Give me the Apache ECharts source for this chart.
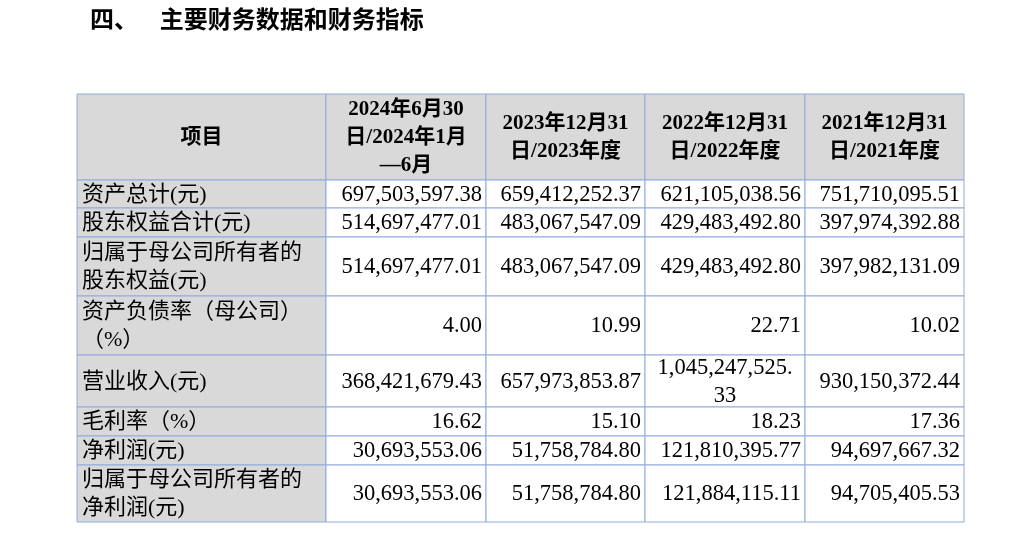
<!DOCTYPE html>
<html><head><meta charset="utf-8">
<script src="https://cdn.jsdelivr.net/npm/echarts@6/dist/echarts.min.js"></script>
<style>html,body{margin:0;background:#fff}#c{width:1033px;height:533px}</style>
</head><body><div id="c"></div>
<script>
const title = "四、    主要财务数据和财务指标";
const headers = ["项目", "2024年6月30\n日/2024年1月\n—6月", "2023年12月31\n日/2023年度", "2022年12月31\n日/2022年度", "2021年12月31\n日/2021年度"];
const items = ["资产总计(元)", "股东权益合计(元)", "归属于母公司所有者的\n股东权益(元)", "资产负债率（母公司）\n（%）", "营业收入(元)", "毛利率（%）", "净利润(元)", "归属于母公司所有者的\n净利润(元)"];
const v2024h1 = ["697,503,597.38", "514,697,477.01", "514,697,477.01", "4.00", "368,421,679.43", "16.62", "30,693,553.06", "30,693,553.06"];
const v2023 = ["659,412,252.37", "483,067,547.09", "483,067,547.09", "10.99", "657,973,853.87", "15.10", "51,758,784.80", "51,758,784.80"];
const v2022 = ["621,105,038.56", "429,483,492.80", "429,483,492.80", "22.71", "1,045,247,525.\n33", "18.23", "121,810,395.77", "121,884,115.11"];
const v2021 = ["751,710,095.51", "397,974,392.88", "397,982,131.09", "10.02", "930,150,372.44", "17.36", "94,697,667.32", "94,705,405.53"];

const colX = [77, 326, 486, 645, 805, 964];
const rowY = [94, 180, 208, 237, 296, 355, 407, 436, 465, 522];
const border = "#8eaadb";
const serif = "'Liberation Serif','Noto Sans CJK SC',serif";

const els = [];
els.push({type: "text", left: 90, top: 7, style: {text: title, font: "bold 24px 'Noto Sans CJK SC'", fill: "#000"}});

const cols = [items, v2024h1, v2023, v2022, v2021];
for (let r = 0; r < rowY.length - 1; r++) {
  for (let c = 0; c < 5; c++) {
    const x0 = colX[c], x1 = colX[c + 1], y0 = rowY[r], y1 = rowY[r + 1];
    const gray = r === 0 || c === 0;
    els.push({type: "rect", shape: {x: x0, y: y0, width: x1 - x0, height: y1 - y0},
      style: {fill: gray ? "#d9d9d9" : "#fff", stroke: border, lineWidth: 1}});
    let text, align, x, size;
    if (r === 0) { text = headers[c]; align = "center"; x = (x0 + x1) / 2; size = 21; }
    else if (c === 0) { text = items[r - 1]; align = "left"; x = x0 + 5; size = 22; }
    else {
      text = cols[c][r - 1]; size = 22.5;
      if (text.includes("\n")) { align = "center"; x = (x0 + x1) / 2; }
      else { align = "right"; x = x1 - 4; }
    }
    els.push({type: "text", x: x, y: (y0 + y1) / 2 + 1, style: {
      text: text, align: align, verticalAlign: "middle", lineHeight: r === 0 ? 28 : 28,
      font: (r === 0 ? "bold " : "") + size + "px " + serif, fill: "#000"}});
  }
}

const chart = echarts.init(document.getElementById("c"));
chart.setOption({animation: false, graphic: {elements: els}});
</script></body></html>
